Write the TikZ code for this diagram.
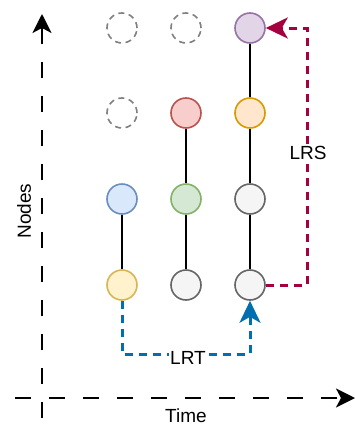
\documentclass[tikz,border=0pt]{standalone}
\usepackage{fontspec}
\setmainfont{Liberation Sans}
\usetikzlibrary{arrows.meta}

\definecolor{ghostline}{HTML}{808080}
\definecolor{blueFill}{HTML}{DAE8FC}\definecolor{blueLine}{HTML}{6C8EBF}
\definecolor{yellowFill}{HTML}{FFF2CC}\definecolor{yellowLine}{HTML}{D6B656}
\definecolor{greenFill}{HTML}{D5E8D4}\definecolor{greenLine}{HTML}{82B366}
\definecolor{redFill}{HTML}{F8CECC}\definecolor{redLine}{HTML}{B85450}
\definecolor{orangeFill}{HTML}{FFE6CC}\definecolor{orangeLine}{HTML}{D79B00}
\definecolor{purpleFill}{HTML}{E1D5E7}\definecolor{purpleLine}{HTML}{9673A6}
\definecolor{grayFill}{HTML}{F5F5F5}\definecolor{grayLine}{HTML}{666666}
\definecolor{lrsColor}{HTML}{A50040}
\definecolor{lrtColor}{HTML}{006EAF}

\tikzset{
  dot/.style={circle, minimum size=30pt, inner sep=0pt, line width=1.6pt},
  ghost/.style={dot, draw=ghostline, dash pattern=on 6pt off 4.6pt},
  bluedot/.style={dot, draw=blueLine, fill=blueFill},
  yellowdot/.style={dot, draw=yellowLine, fill=yellowFill},
  greendot/.style={dot, draw=greenLine, fill=greenFill},
  reddot/.style={dot, draw=redLine, fill=redFill},
  orangedot/.style={dot, draw=orangeLine, fill=orangeFill},
  purpledot/.style={dot, draw=purpleLine, fill=purpleFill},
  graydot/.style={dot, draw=grayLine, fill=grayFill},
  link/.style={line width=2pt, black},
  axis/.style={line width=2pt, black, dash pattern=on 16pt off 18pt,
    -{Stealth[length=19pt, width=19pt, inset=5pt]}},
  lag/.style={line width=3pt, dash pattern=on 8pt off 6pt,
    -{Stealth[length=22pt, width=21pt, inset=6pt]}},
  txt/.style={font=\fontsize{19}{22}\selectfont, inner sep=1pt},
}

\begin{document}
\begin{tikzpicture}[x=1pt, y=-1pt]
\useasboundingbox (0,0) rectangle (355,426);

% axes
\coordinate (vbot) at (42,418);
\coordinate (vtop) at (42,14);
\coordinate (hleft) at (15,398);
\coordinate (hright) at (355,398);
\draw[axis] (vbot) -- (vtop);
\draw[axis] (hleft) -- (hright);
\node[txt] (time) at (186,415.5) {Time};
\node[txt, rotate=90] (nodes) at (24,211) {Nodes};

% nodes: column / row
\node[ghost] (a1) at (122,28) {};
\node[ghost] (b1) at (186,28) {};
\node[purpledot] (c1) at (250,28) {};

\node[ghost] (a2) at (122,113) {};
\node[reddot] (b2) at (186,113) {};
\node[orangedot] (c2) at (250,113) {};

\node[bluedot] (a3) at (122,199) {};
\node[greendot] (b3) at (186,199) {};
\node[graydot] (c3) at (250,199) {};

\node[yellowdot] (a4) at (122,285) {};
\node[graydot] (b4) at (186,285) {};
\node[graydot] (c4) at (250,285) {};

% links within each column
\draw[link] (a3) -- (a4);
\draw[link] (b2) -- (b3) (b3) -- (b4);
\draw[link] (c1) -- (c2) (c2) -- (c3) (c3) -- (c4);

% LRT
\draw[lag, lrtColor] (a4.south) -- (122,354) -- (250,354) -- (c4.south);
\node[txt, fill=white] (lrt) at (188,358) {LRT};

% LRS
\draw[lag, lrsColor] (c4.east) -- (307,285) -- (307,28) -- (c1.east);
\node[txt, fill=white] (lrs) at (308,153) {LRS};
\end{tikzpicture}
\end{document}
